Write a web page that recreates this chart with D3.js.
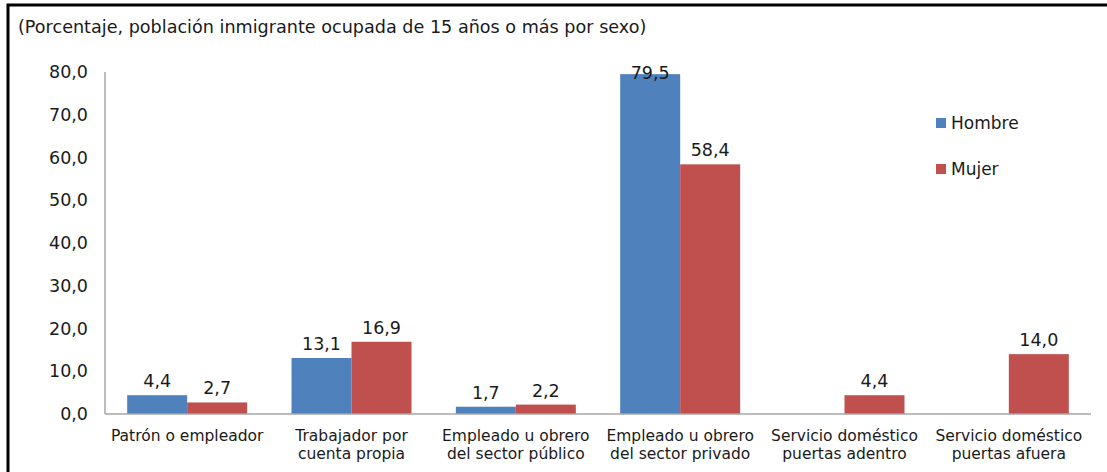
<!DOCTYPE html>
<html>
<head>
<meta charset="utf-8">
<script src="https://cdn.jsdelivr.net/npm/d3@7"></script>
<style>
  body { margin: 0; background: #fff; }
  svg { display: block; font-family: "DejaVu Sans", Verdana, sans-serif; }
</style>
</head>
<body>
<div class="chart"></div>
<script>
const width = 1107
const height = 472

const categories = [
    ["Patrón o empleador"],
    ["Trabajador por", "cuenta propia"],
    ["Empleado u obrero", "del sector público"],
    ["Empleado u obrero", "del sector privado"],
    ["Servicio doméstico", "puertas adentro"],
    ["Servicio doméstico", "puertas afuera"]
]
const series = ["Hombre", "Mujer"]
const hombre = [4.4, 13.1, 1.7, 79.5, null, null]
const mujer = [2.7, 16.9, 2.2, 58.4, 4.4, 14.0]
const yTicks = [0, 10, 20, 30, 40, 50, 60, 70, 80]
const colors = ["#4f81bd", "#c0504d"]

const subtitle = "(Porcentaje, población inmigrante ocupada de 15 años o más por sexo)"

const rows = categories.map((c, i) => ({cat: i, label: c, values: [hombre[i], mujer[i]]}))

const fmt = v => d3.format(".1f")(v).replace(".", ",")

const svg = d3.select('.chart').append('svg')
    .attr("width", width)
    .attr("height", height)
    .attr("viewBox", [0, 0, width, height])

// frame (only top and left edges show in the crop)
svg.append("rect")
    .attr("x", 8).attr("y", 5)
    .attr("width", width + 20).attr("height", height + 20)
    .attr("fill", "none")
    .attr("stroke", "#000")
    .attr("stroke-width", 3)

svg.append("text")
    .attr("x", 18).attr("y", 33)
    .attr("font-size", 17.6)
    .attr("fill", "#1a1a1a")
    .text(subtitle)

const x = d3.scaleBand()
    .domain(rows.map(d => d.cat))
    .range([105, 1091])
    .paddingInner(0.27)
    .paddingOuter(0.135)

const xs = d3.scaleBand()
    .domain([0, 1])
    .range([0, x.bandwidth()])

const y = d3.scaleLinear()
    .domain([0, 80])
    .range([414, 72])

// y tick labels
svg.append("g")
    .selectAll("text")
    .data(yTicks)
    .join("text")
    .attr("x", 88)
    .attr("y", d => y(d))
    .attr("dy", "0.35em")
    .attr("text-anchor", "end")
    .attr("font-size", 17.5)
    .attr("fill", "#1a1a1a")
    .text(fmt)

// bars
const groups = svg.append("g")
    .selectAll("g")
    .data(rows)
    .join("g")
    .attr("transform", d => `translate(${x(d.cat)},0)`)

const cells = groups.selectAll("g")
    .data(d => d.values.map((v, s) => ({v, s})).filter(e => e.v != null))
    .join("g")

cells.append("rect")
    .attr("x", d => xs(d.s))
    .attr("width", xs.bandwidth())
    .attr("y", d => y(d.v))
    .attr("height", d => y(0) - y(d.v))
    .attr("fill", d => colors[d.s])

cells.append("text")
    .attr("x", d => xs(d.s) + xs.bandwidth() / 2)
    .attr("y", d => Math.max(y(d.v) - 8, 79))
    .attr("text-anchor", "middle")
    .attr("font-size", 17.5)
    .attr("fill", "#1a1a1a")
    .text(d => fmt(d.v))

// axes lines
svg.append("line")
    .attr("x1", 105).attr("x2", 105)
    .attr("y1", y(80)).attr("y2", y(0))
    .attr("stroke", "#a6a6a6").attr("stroke-width", 1.5)

svg.append("line")
    .attr("x1", 105).attr("x2", 1091)
    .attr("y1", y(0)).attr("y2", y(0))
    .attr("stroke", "#a6a6a6").attr("stroke-width", 1.5)

// category labels
const catLabels = svg.append("g")
    .selectAll("text")
    .data(rows)
    .join("text")
    .attr("x", d => x(d.cat) + x.bandwidth() / 2)
    .attr("y", 441)
    .attr("text-anchor", "middle")
    .attr("font-size", 15.5)
    .attr("fill", "#1a1a1a")

catLabels.selectAll("tspan")
    .data(d => d.label)
    .join("tspan")
    .attr("x", function() { return d3.select(this.parentNode).attr("x") })
    .attr("dy", (d, i) => i === 0 ? 0 : 18)
    .text(d => d)

// legend
const legend = svg.append("g")
    .selectAll("g")
    .data(series)
    .join("g")
    .attr("transform", (d, i) => `translate(936,${123 + i * 46})`)

legend.append("rect")
    .attr("x", 0).attr("y", -5)
    .attr("width", 10).attr("height", 10)
    .attr("fill", (d, i) => colors[i])

legend.append("text")
    .attr("x", 15).attr("y", 0)
    .attr("dy", "0.35em")
    .attr("font-size", 17)
    .attr("fill", "#1a1a1a")
    .text(d => d)
</script>
</body>
</html>
